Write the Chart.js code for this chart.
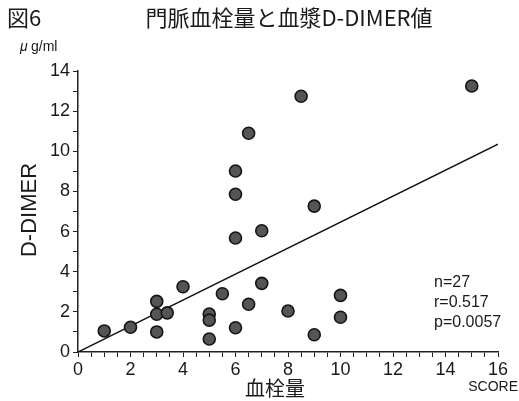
<!DOCTYPE html>
<html>
<head>
<meta charset="utf-8">
<script src="https://cdn.jsdelivr.net/npm/chart.js"></script>
<style>
  html, body { margin: 0; padding: 0; background: #fff; }
  #wrap { width: 519px; height: 401px; }
</style>
</head>
<body>
<div id="wrap"><canvas id="dimerChart" width="519" height="401"></canvas></div>
<script>
// 血栓量スコア (x) と D-DIMER 値 (y)
const scoreValues = [1, 2, 3, 3, 3, 3.4, 4, 5, 5, 5, 5.5, 6, 6, 6, 6, 6.5, 6.5, 7, 7, 8, 8.5, 9, 9, 10, 10, 15];
const dimerValues = [1.05, 1.23, 2.52, 1.88, 1.0, 1.95, 3.25, 1.89, 1.59, 0.65, 2.9, 9.02, 7.86, 5.68, 1.21, 10.9, 2.38, 6.04, 3.42, 2.04, 12.74, 7.27, 0.86, 2.82, 1.73, 13.25];

// 回帰直線の両端
const fitX = [0, 16];
const fitY = [0, 10.35];

const statLines = ['n=27', 'r=0.517', 'p=0.0057'];

const latin = '"Liberation Sans", Arial, sans-serif';
const cjk = '"Noto Sans CJK JP", "Liberation Sans", sans-serif';

const points = scoreValues.map((x, i) => ({ x: x, y: dimerValues[i] }));
const fitPoints = fitX.map((x, i) => ({ x: x, y: fitY[i] }));

// extra texts: figure title, units, axis titles, statistics
const textPlugin = {
    id: 'texts',
    afterDraw(chart) {
        const ctx = chart.ctx;
        ctx.save();
        ctx.fillStyle = '#1a1a1a';
        ctx.textBaseline = 'middle';

        ctx.font = '22px ' + cjk;
        ctx.textAlign = 'left';
        ctx.fillText('図6', 7, 18);
        ctx.textAlign = 'center';
        ctx.fillText('門脈血栓量と血漿D-DIMER値', 289, 18);

        ctx.textAlign = 'left';
        ctx.font = 'italic 14px ' + latin;
        ctx.fillText('μ', 20, 47);
        ctx.font = '14px ' + latin;
        ctx.fillText('g/ml', 31, 47);

        ctx.font = '20px ' + cjk;
        ctx.textAlign = 'center';
        ctx.fillText('血栓量', 275, 388);

        ctx.font = '14px ' + latin;
        ctx.textAlign = 'right';
        ctx.fillText('SCORE', 518, 387);

        ctx.font = '16px ' + latin;
        ctx.textAlign = 'left';
        statLines.forEach((t, i) => ctx.fillText(t, 434, 283 + i * 20));

        ctx.translate(30, 210);
        ctx.rotate(-Math.PI / 2);
        ctx.font = '22px ' + latin;
        ctx.textAlign = 'center';
        ctx.fillText('D-DIMER', 0, 0);
        ctx.restore();
    }
};

const ctx = document.getElementById('dimerChart').getContext('2d');
const dimerChart = new Chart(ctx, {
    type: 'scatter',
    data: {
        datasets: [{
            label: 'D-DIMER',
            data: points,
            pointRadius: 6,
            pointHoverRadius: 6,
            backgroundColor: '#555',
            borderColor: '#151515',
            borderWidth: 1.6
        }, {
            type: 'line',
            label: 'fit',
            data: fitPoints,
            borderColor: '#111',
            borderWidth: 1.5,
            pointRadius: 0,
            fill: false
        }]
    },
    options: {
        responsive: false,
        animation: false,
        layout: {
            padding: { left: 0, right: 21, top: 71, bottom: 0 }
        },
        plugins: {
            legend: { display: false },
            tooltip: { enabled: false }
        },
        scales: {
            x: {
                type: 'linear',
                min: 0,
                max: 16,
                afterFit: function(scale) { scale.height = 49; },
                grid: { drawOnChartArea: false, color: '#222', tickLength: 5 },
                border: { color: '#222', width: 1.5 },
                ticks: {
                    stepSize: 0.5,
                    autoSkip: false,
                    maxRotation: 0,
                    padding: 2,
                    color: '#1a1a1a',
                    font: { family: latin, size: 18 },
                    callback: function(value) {
                        return value % 2 === 0 ? value : '';
                    }
                }
            },
            y: {
                min: 0,
                max: 14,
                afterFit: function(scale) { scale.width = 78; },
                grid: { drawOnChartArea: false, color: '#222', tickLength: 5 },
                border: { color: '#222', width: 1.5 },
                ticks: {
                    stepSize: 1,
                    autoSkip: false,
                    padding: 3,
                    color: '#1a1a1a',
                    font: { family: latin, size: 18 },
                    callback: function(value) {
                        return value % 2 === 0 ? value : '';
                    }
                }
            }
        }
    },
    plugins: [textPlugin]
});
</script>
</body>
</html>
